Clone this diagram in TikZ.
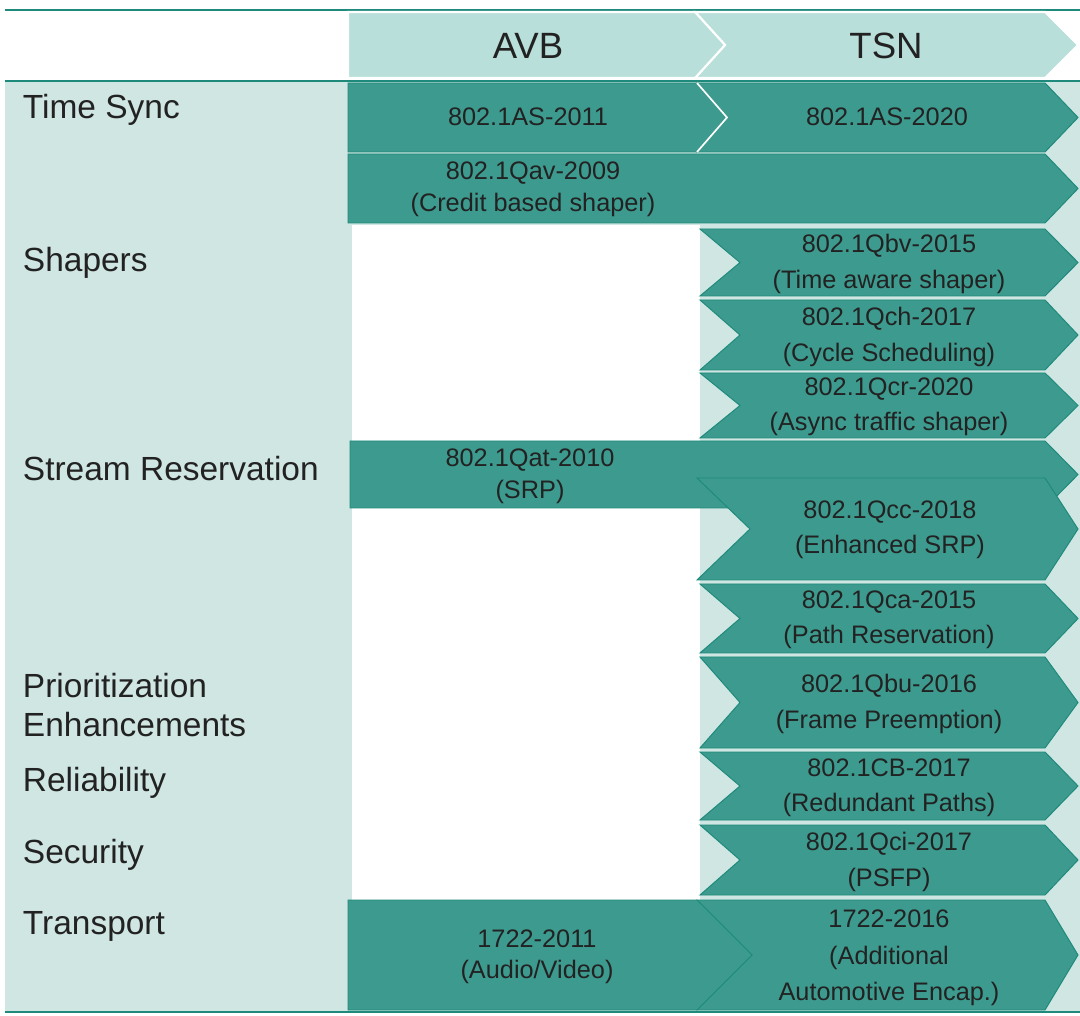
\documentclass[tikz,border=0pt]{standalone}
\usepackage{fontspec}
\setmainfont{Liberation Sans}
\begin{document}
\definecolor{lite}{HTML}{CFE6E2}
\definecolor{head}{HTML}{B8DFD9}
\definecolor{dark}{HTML}{3D9A8E}
\definecolor{edge}{HTML}{1E8A7C}
\definecolor{txt}{HTML}{222222}
\newcommand\chev[7]{\pgfmathsetmacro\ym{(#4+#5)/2}\draw[#1] (#2,#4) -- (#3,#4) -- (#3+#7,\ym) -- (#3,#5) -- (#2,#5) -- (#2+#6,\ym) -- cycle;}
\begin{tikzpicture}[x=0.025cm,y=-0.025cm,
  box/.style={fill=dark,draw=edge,line width=0.7pt},
  hd/.style={fill=head,draw=white,line width=1.5pt},
  lab/.style={font=\fontsize{23.8}{28}\selectfont,text=txt,anchor=west,align=left},
  ct/.style={font=\fontsize{18}{25}\selectfont,text=txt,align=center},
  ht/.style={font=\fontsize{26}{30}\selectfont,text=txt}]
\useasboundingbox (0,0) rectangle (1080,1016);
% background
\fill[lite] (5,81) rectangle (1080,1011);
\fill[white] (352,225) rectangle (700,900);
\draw[edge,line width=1.5pt] (5,10) -- (1080,10);
\draw[edge,line width=1.5pt] (5,81) -- (1080,81);
\draw[edge,line width=1.5pt] (5,1012) -- (1080,1012);
% header
\chev{hd}{695}{1045}{12}{78}{30}{33}
\chev{hd}{348}{695}{12}{78}{0}{30}
\node[ht] (avb) at (528,46) {AVB};
\node[ht] (tsn) at (886,46) {TSN};
% left labels
\node[lab] (l1) at (18,110) {Time Sync};
\node[lab] (l2) at (18,263) {Shapers};
\node[lab] (l3) at (18,469) {Stream Reservation};
\node[lab] (l4) at (18,705) {Prioritization\\Enhancements};
\node[lab] (l5) at (18,783) {Reliability};
\node[lab] (l6) at (18,855) {Security};
\node[lab] (l7) at (18,926) {Transport};
% chevrons
\chev{box}{697}{1045}{83}{152}{30}{33}
\chev{box}{348}{697}{83}{152}{0}{30}
\draw[white,line width=1.2pt] (697,83) -- (727,117.5) -- (697,152);
\node[ct] (as11) at (528,117) {802.1AS-2011};
\node[ct] (as20) at (887,117) {802.1AS-2020};
\chev{box}{348}{1045}{154}{223}{0}{33}
\node[ct,font=\fontsize{18}{23}\selectfont] (qav) at (533,189) {802.1Qav-2009\\(Credit based shaper)};
\chev{box}{700}{1045}{229}{296}{40}{33}
\node[ct] (qbv) at (889,264) {802.1Qbv-2015\\(Time aware shaper)};
\chev{box}{700}{1045}{300}{370}{40}{33}
\node[ct] (qch) at (889,337) {802.1Qch-2017\\(Cycle Scheduling)};
\chev{box}{700}{1045}{373}{438}{40}{33}
\node[ct] (qcr) at (889,407) {802.1Qcr-2020\\(Async traffic shaper)};
\chev{box}{350}{1045}{441}{508}{0}{33}
\node[ct,font=\fontsize{18}{23}\selectfont] (qat) at (530,476) {802.1Qat-2010\\(SRP)};
\chev{box}{697}{1045}{478}{580}{53}{33}
\node[ct] (qcc) at (890,530) {802.1Qcc-2018\\(Enhanced SRP)};
\chev{box}{700}{1045}{584}{653}{40}{33}
\node[ct] (qca) at (889,620) {802.1Qca-2015\\(Path Reservation)};
\chev{box}{700}{1045}{657}{748}{40}{33}
\node[ct] (qbu) at (889,704) {802.1Qbu-2016\\(Frame Preemption)};
\chev{box}{700}{1045}{752}{820}{40}{33}
\node[ct] (cb) at (889,788) {802.1CB-2017\\(Redundant Paths)};
\chev{box}{700}{1045}{825}{895}{40}{33}
\node[ct] (qci) at (889,862) {802.1Qci-2017\\(PSFP)};
\chev{box}{697}{1045}{900}{1010}{55}{33}
\chev{box}{348}{697}{900}{1010}{0}{55}
\node[ct,font=\fontsize{18}{22}\selectfont] (a11) at (537,957) {1722-2011\\(Audio/Video)};
\node[ct,font=\fontsize{18}{26}\selectfont] (a16) at (889,958) {1722-2016\\(Additional\\Automotive Encap.)};
\end{tikzpicture}
\end{document}
